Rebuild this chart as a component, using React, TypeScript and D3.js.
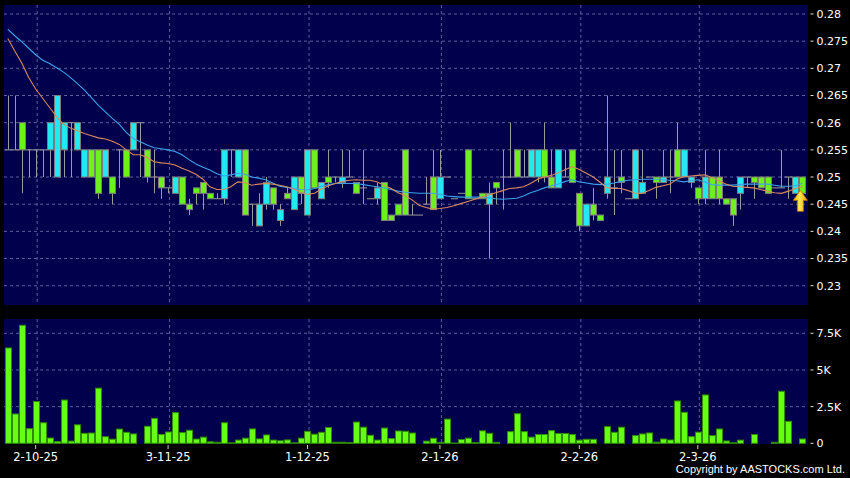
import React from "react";
import * as d3 from "d3";

// ---------- data ----------
const opens = [
  0.255, 0.255, 0.26, 0.255, 0.255, 0.255, 0.255, 0.25, 0.255, 0.26,
  0.255, 0.25, 0.255, 0.255, 0.25, 0.25, 0.255, 0.255, 0.255, 0.26,
  0.255, 0.25, 0.25, 0.248, 0.247, 0.25, 0.245, 0.248, 0.249, 0.247,
  0.246, 0.246, 0.255, 0.25, 0.255, 0.245, 0.241, 0.245, 0.248, 0.242,
  0.247, 0.244, 0.25, 0.243, 0.255, 0.246, 0.25, 0.25, 0.249, 0.25,
  0.249, 0.248, 0.246, 0.246, 0.249, 0.243, 0.245, 0.255, 0.243, 0.243,
  0.245, 0.25, 0.246, 0.25, 0.246, 0.247, 0.255, 0.246, 0.247, 0.245,
  0.249, 0.25, 0.25, 0.255, 0.25, 0.25, 0.25, 0.255, 0.25, 0.248,
  0.25, 0.255, 0.247, 0.241, 0.245, 0.243, 0.247, 0.248, 0.25, 0.246,
  0.246, 0.247, 0.25, 0.25, 0.249, 0.25, 0.255, 0.25, 0.249, 0.248,
  0.246, 0.25, 0.25, 0.246, 0.246, 0.247, 0.25, 0.25, 0.25, 0.25,
  0.248, 0.248, 0.25, 0.247, 0.25,
];
const highs = [
  0.265, 0.265, 0.26, 0.255, 0.255, 0.255, 0.26, 0.265, 0.26, 0.26,
  0.26, 0.255, 0.255, 0.255, 0.255, 0.25, 0.255, 0.255, 0.26, 0.26,
  0.255, 0.255, 0.25, 0.248, 0.25, 0.25, 0.246, 0.248, 0.249, 0.247,
  0.247, 0.255, 0.255, 0.255, 0.255, 0.245, 0.247, 0.25, 0.248, 0.245,
  0.248, 0.25, 0.25, 0.255, 0.255, 0.249, 0.255, 0.25, 0.255, 0.255,
  0.249, 0.255, 0.246, 0.249, 0.249, 0.243, 0.245, 0.255, 0.245, 0.243,
  0.25, 0.255, 0.255, 0.25, 0.246, 0.247, 0.255, 0.246, 0.247, 0.249,
  0.249, 0.255, 0.26, 0.255, 0.255, 0.255, 0.255, 0.26, 0.255, 0.255,
  0.255, 0.255, 0.247, 0.245, 0.248, 0.243, 0.265, 0.255, 0.255, 0.246,
  0.255, 0.255, 0.25, 0.25, 0.255, 0.255, 0.26, 0.255, 0.25, 0.248,
  0.255, 0.25, 0.255, 0.246, 0.246, 0.25, 0.25, 0.25, 0.25, 0.25,
  0.248, 0.255, 0.25, 0.25, 0.25,
];
const lows = [
  0.255, 0.255, 0.247, 0.25, 0.25, 0.25, 0.25, 0.25, 0.25, 0.25,
  0.255, 0.25, 0.25, 0.246, 0.25, 0.245, 0.248, 0.25, 0.255, 0.25,
  0.249, 0.247, 0.246, 0.247, 0.247, 0.245, 0.243, 0.245, 0.244, 0.246,
  0.246, 0.245, 0.25, 0.25, 0.243, 0.241, 0.241, 0.244, 0.244, 0.241,
  0.246, 0.244, 0.245, 0.243, 0.248, 0.246, 0.248, 0.249, 0.248, 0.25,
  0.247, 0.245, 0.246, 0.245, 0.242, 0.242, 0.243, 0.243, 0.243, 0.243,
  0.245, 0.244, 0.246, 0.25, 0.246, 0.247, 0.246, 0.246, 0.246, 0.235,
  0.245, 0.244, 0.25, 0.25, 0.25, 0.25, 0.249, 0.249, 0.248, 0.248,
  0.25, 0.249, 0.24, 0.241, 0.242, 0.242, 0.246, 0.243, 0.247, 0.246,
  0.246, 0.247, 0.25, 0.246, 0.249, 0.247, 0.25, 0.25, 0.248, 0.245,
  0.245, 0.246, 0.245, 0.245, 0.241, 0.244, 0.248, 0.246, 0.248, 0.247,
  0.248, 0.248, 0.246, 0.247, 0.247,
];
const closes = [
  0.255, 0.255, 0.255, 0.255, 0.255, 0.255, 0.26, 0.265, 0.26, 0.26,
  0.26, 0.255, 0.25, 0.247, 0.255, 0.247, 0.255, 0.25, 0.26, 0.26,
  0.25, 0.25, 0.248, 0.248, 0.25, 0.245, 0.244, 0.247, 0.247, 0.246,
  0.246, 0.255, 0.255, 0.255, 0.243, 0.245, 0.245, 0.249, 0.245, 0.244,
  0.246, 0.25, 0.247, 0.255, 0.248, 0.249, 0.249, 0.25, 0.25, 0.25,
  0.247, 0.248, 0.246, 0.248, 0.242, 0.242, 0.243, 0.243, 0.243, 0.243,
  0.245, 0.244, 0.25, 0.25, 0.246, 0.247, 0.246, 0.246, 0.246, 0.247,
  0.248, 0.25, 0.25, 0.25, 0.25, 0.255, 0.255, 0.25, 0.248, 0.255,
  0.25, 0.249, 0.241, 0.245, 0.243, 0.242, 0.25, 0.248, 0.249, 0.246,
  0.255, 0.249, 0.25, 0.249, 0.25, 0.25, 0.25, 0.255, 0.25, 0.246,
  0.25, 0.246, 0.246, 0.245, 0.243, 0.25, 0.25, 0.249, 0.248, 0.247,
  0.248, 0.248, 0.25, 0.25, 0.247,
];
const volumes = [
  6500, 2000, 8050, 1000, 2850, 1400, 360, 120, 2950, 150,
  1260, 680, 700, 3760, 450, 280, 970, 750, 640, 0,
  1160, 1700, 600, 770, 2090, 730, 890, 290, 420, 100,
  70, 1400, 30, 220, 350, 980, 300, 570, 220, 170,
  230, 30, 350, 820, 620, 750, 1080, 70, 70, 45,
  1450, 1100, 550, 220, 1040, 320, 840, 820, 700, 0,
  150, 340, 68, 1650, 20, 260, 350, 45, 850, 680,
  68, 0, 795, 2020, 795, 420, 600, 600, 864, 670,
  670, 600, 215, 273, 273, 0, 1136, 750, 1100, 0,
  535, 636, 705, 80, 295, 227, 2887, 2114, 455, 760,
  3296, 523, 977, 159, 35, 215, 0, 600, 0, 0,
  68, 3546, 1500, 0, 295,
];
const maShort = [
  0.2755, 0.2732, 0.271, 0.2683, 0.2662, 0.2645, 0.2628, 0.2611, 0.2597, 0.259,
  0.2585, 0.258, 0.2576, 0.2572, 0.257, 0.2566, 0.256, 0.255, 0.2541, 0.2541,
  0.2536, 0.2528, 0.2526, 0.2525, 0.2522, 0.2516, 0.2511, 0.2505, 0.2496, 0.2482,
  0.2477, 0.2477, 0.2482, 0.2491, 0.249, 0.2485, 0.2487, 0.2488, 0.2487, 0.2485,
  0.2482, 0.2478, 0.2472, 0.2468, 0.247, 0.2478, 0.2484, 0.2488, 0.2492, 0.2494,
  0.2495, 0.2494, 0.2494, 0.2491, 0.2485, 0.2479, 0.2471, 0.2466, 0.2458, 0.2448,
  0.2444, 0.2441, 0.2442, 0.2444, 0.2447, 0.2451, 0.2455, 0.2459, 0.2463, 0.2467,
  0.2471, 0.2475, 0.2479, 0.248, 0.2482, 0.2488, 0.2496, 0.25, 0.2503, 0.2508,
  0.2514, 0.2519, 0.2514, 0.2507, 0.25, 0.249, 0.248, 0.2479, 0.2479, 0.2475,
  0.247, 0.247, 0.2475, 0.2481, 0.2484, 0.2487, 0.2496, 0.2501, 0.2502, 0.2503,
  0.2504, 0.2499, 0.2493, 0.2487, 0.2483, 0.2482, 0.2481, 0.248, 0.2477, 0.2474,
  0.2471, 0.247, 0.2474, 0.2479, 0.2483,
];
const maLong = [
  0.2772, 0.276, 0.2749, 0.2737, 0.2725, 0.2715, 0.2709, 0.2701, 0.2693, 0.2683,
  0.2672, 0.266, 0.2646, 0.2632, 0.262, 0.2608, 0.2597, 0.2582, 0.2571, 0.2565,
  0.2559, 0.2554, 0.2552, 0.255, 0.2547, 0.2541, 0.2532, 0.2524, 0.2518, 0.2513,
  0.2506, 0.2502, 0.2504, 0.2507, 0.2505, 0.25, 0.2498, 0.2495, 0.2489, 0.2483,
  0.2481, 0.2479, 0.2477, 0.2476, 0.2479, 0.2483, 0.2486, 0.2488, 0.2488, 0.2488,
  0.2488, 0.2486, 0.2484, 0.2482, 0.248, 0.2477, 0.2474, 0.2472, 0.2471, 0.247,
  0.247, 0.247, 0.2468, 0.2465, 0.2464, 0.2463, 0.2463, 0.2463, 0.2463, 0.2462,
  0.246, 0.2459, 0.246, 0.2461, 0.2465, 0.2471, 0.2475, 0.248, 0.2484, 0.2487,
  0.2492, 0.2495, 0.2491, 0.2489, 0.2487, 0.2486, 0.2487, 0.2489, 0.2492, 0.2494,
  0.2495, 0.2496, 0.2496, 0.2496, 0.2495, 0.2494, 0.2493, 0.2491, 0.2493, 0.2495,
  0.2491, 0.2486, 0.2485, 0.2485, 0.2485, 0.2486, 0.2487, 0.2487, 0.2487, 0.2487,
  0.2485, 0.2483, 0.2483, 0.2484, 0.2488,
];
const dateTickIndex = [4, 23, 43, 62, 82, 99];
const dateTickLabels = ["2-10-25", "3-11-25", "1-12-25", "2-1-26", "2-2-26", "2-3-26"];
const priceTicks = [0.23, 0.235, 0.24, 0.245, 0.25, 0.255, 0.26, 0.265, 0.27, 0.275, 0.28];
const volumeTicks = [0, 2500, 5000, 7500];
const volumeTickLabels = ["0", "2.5K", "5K", "7.5K"];

// ---------- layout / style ----------
const W = 850;
const H = 478;
const PL = 4;
const PR = 808;
const MAIN_TOP = 5;
const MAIN_BOTTOM = 305;
const VOL_TOP = 319;
const VOL_BOTTOM = 444;
const PANEL_BG = "#00004c";
const GRID = "#5e5e9e";
const UP = "#22e8f2";
const DOWN = "#6ef01c";
const WICK = "#9a9a9a";
const FONT = "'DejaVu Sans', Verdana, sans-serif";

export default function App() {
  const N = closes.length;
  const x = d3.scaleBand<number>().domain(d3.range(N)).range([4.3, 4.3 + N * 6.97]).padding(0);
  const bw = x.bandwidth();
  const cx = (i: number) => (x(i) as number) + bw / 2;
  const y = d3.scaleLinear().domain([0.23, 0.28]).range([285.7, 14]);
  const yv = d3.scaleLinear().domain([0, 7500]).range([443.3, 333.3]);
  const body = 6;

  const lineShort = d3.line<number>().x((_, i) => cx(i)).y((d) => y(d));
  const lineLong = d3.line<number>().x((_, i) => cx(i)).y((d) => y(d));

  const last = N - 1;
  const ax = cx(last) - 2;
  const ay = y(closes[last]) - 3;
  const arrowPath = `M${ax},${ay} L${ax + 7},${ay + 10} L${ax + 3},${ay + 10} L${ax + 3},${ay + 21} L${ax - 3},${ay + 21} L${ax - 3},${ay + 10} L${ax - 7},${ay + 10} Z`;

  return (
    <svg
      width={W}
      height={H}
      style={{ position: "absolute", left: 0, top: 0, display: "block" }}
      xmlns="http://www.w3.org/2000/svg"
    >
      <defs>
        <linearGradient id="arrowGrad" x1="0" y1="0" x2="1" y2="0">
          <stop offset="0%" stopColor="#ffb000" />
          <stop offset="45%" stopColor="#ffe84a" />
          <stop offset="100%" stopColor="#f0a000" />
        </linearGradient>
        <clipPath id="mainClip">
          <rect x={PL} y={MAIN_TOP} width={PR - PL} height={MAIN_BOTTOM - MAIN_TOP} />
        </clipPath>
      </defs>
      <rect x={0} y={0} width={W} height={H} fill="#000" />

      {/* main panel */}
      <rect x={PL} y={MAIN_TOP} width={PR - PL} height={MAIN_BOTTOM - MAIN_TOP} fill={PANEL_BG} />
      {priceTicks.map((p) => (
        <line key={"pg" + p} x1={PL} x2={PR} y1={y(p)} y2={y(p)} stroke={GRID} strokeWidth={1} strokeDasharray="3,3" />
      ))}
      {dateTickIndex.map((i) => (
        <line key={"vg" + i} x1={cx(i) + 1.5} x2={cx(i) + 1.5} y1={MAIN_TOP} y2={MAIN_BOTTOM} stroke={GRID} strokeWidth={1} strokeDasharray="3,3" />
      ))}

      <g clipPath="url(#mainClip)">
        {closes.map((c, i) => {
          const o = opens[i];
          const xc = Math.round(cx(i)) + 0.5;
          const wick = (
            <line key={"w" + i} x1={xc} x2={xc} y1={y(highs[i])} y2={y(lows[i])} stroke={WICK} strokeWidth={1} />
          );
          if (o === c) {
            return (
              <g key={"c" + i}>
                {wick}
                <line x1={xc - body / 2 - 0.5} x2={xc + body / 2 + 0.5} y1={y(o)} y2={y(o)} stroke={WICK} strokeWidth={1} />
              </g>
            );
          }
          const top = y(Math.max(o, c));
          const bot = y(Math.min(o, c));
          return (
            <g key={"c" + i}>
              {wick}
              <rect
                x={xc - body / 2}
                y={top}
                width={body}
                height={bot - top}
                fill={c > o ? UP : DOWN}
                stroke="#7c7c7c"
                strokeWidth={1}
              />
            </g>
          );
        })}
        <path d={lineLong(maLong) || ""} fill="none" stroke="#3ea2ea" strokeWidth={1.1} />
        <path d={lineShort(maShort) || ""} fill="none" stroke="#d98a5a" strokeWidth={1.1} />
        <path d={arrowPath} fill="url(#arrowGrad)" stroke="#c77a00" strokeWidth={0.8} />
      </g>

      {priceTicks.map((p) => (
        <g key={"pt" + p}>
          <line x1={810.5} x2={813.5} y1={y(p)} y2={y(p)} stroke="#ddd" strokeWidth={1} />
          <text x={816.5} y={y(p)} dy="0.36em" fill="#fff" fontSize={11} fontFamily={FONT}>
            {String(p)}
          </text>
        </g>
      ))}

      {/* volume panel */}
      <rect x={PL} y={VOL_TOP} width={PR - PL} height={VOL_BOTTOM - VOL_TOP} fill={PANEL_BG} />
      {volumeTicks.slice(1).map((v) => (
        <line key={"vgl" + v} x1={PL} x2={PR} y1={yv(v)} y2={yv(v)} stroke={GRID} strokeWidth={1} strokeDasharray="3,3" />
      ))}
      {dateTickIndex.map((i) => (
        <line key={"vvg" + i} x1={cx(i) + 1.5} x2={cx(i) + 1.5} y1={VOL_TOP} y2={VOL_BOTTOM} stroke={GRID} strokeWidth={1} strokeDasharray="3,3" />
      ))}
      {volumes.map((v, i) =>
        v > 0 ? (
          <rect
            key={"v" + i}
            x={Math.round(cx(i)) + 0.5 - body / 2}
            y={yv(v)}
            width={body}
            height={yv(0) - yv(v)}
            fill="#66ff14"
            stroke="#2f8a00"
            strokeWidth={1}
          />
        ) : null
      )}
      {volumeTicks.map((v, k) => (
        <g key={"vt" + v}>
          <line x1={810.5} x2={813.5} y1={yv(v)} y2={yv(v)} stroke="#ddd" strokeWidth={1} />
          <text x={816.5} y={yv(v)} dy="0.36em" fill="#fff" fontSize={11} fontFamily={FONT}>
            {volumeTickLabels[k]}
          </text>
        </g>
      ))}

      {/* date axis */}
      {dateTickIndex.map((i, k) => (
        <g key={"dt" + i}>
          <line x1={cx(i)} x2={cx(i)} y1={445} y2={449} stroke="#ccc" strokeWidth={1} />
          <text x={cx(i)} y={461} textAnchor="middle" fill="#fff" fontSize={11.5} fontFamily={FONT}>
            {dateTickLabels[k]}
          </text>
        </g>
      ))}
      <text
        x={845}
        y={473}
        textAnchor="end"
        fill="#fff"
        fontSize={11}
        fontFamily="'Liberation Sans', Arial, sans-serif"
      >
        Copyright by AASTOCKS.com Ltd.
      </text>
    </svg>
  );
}
